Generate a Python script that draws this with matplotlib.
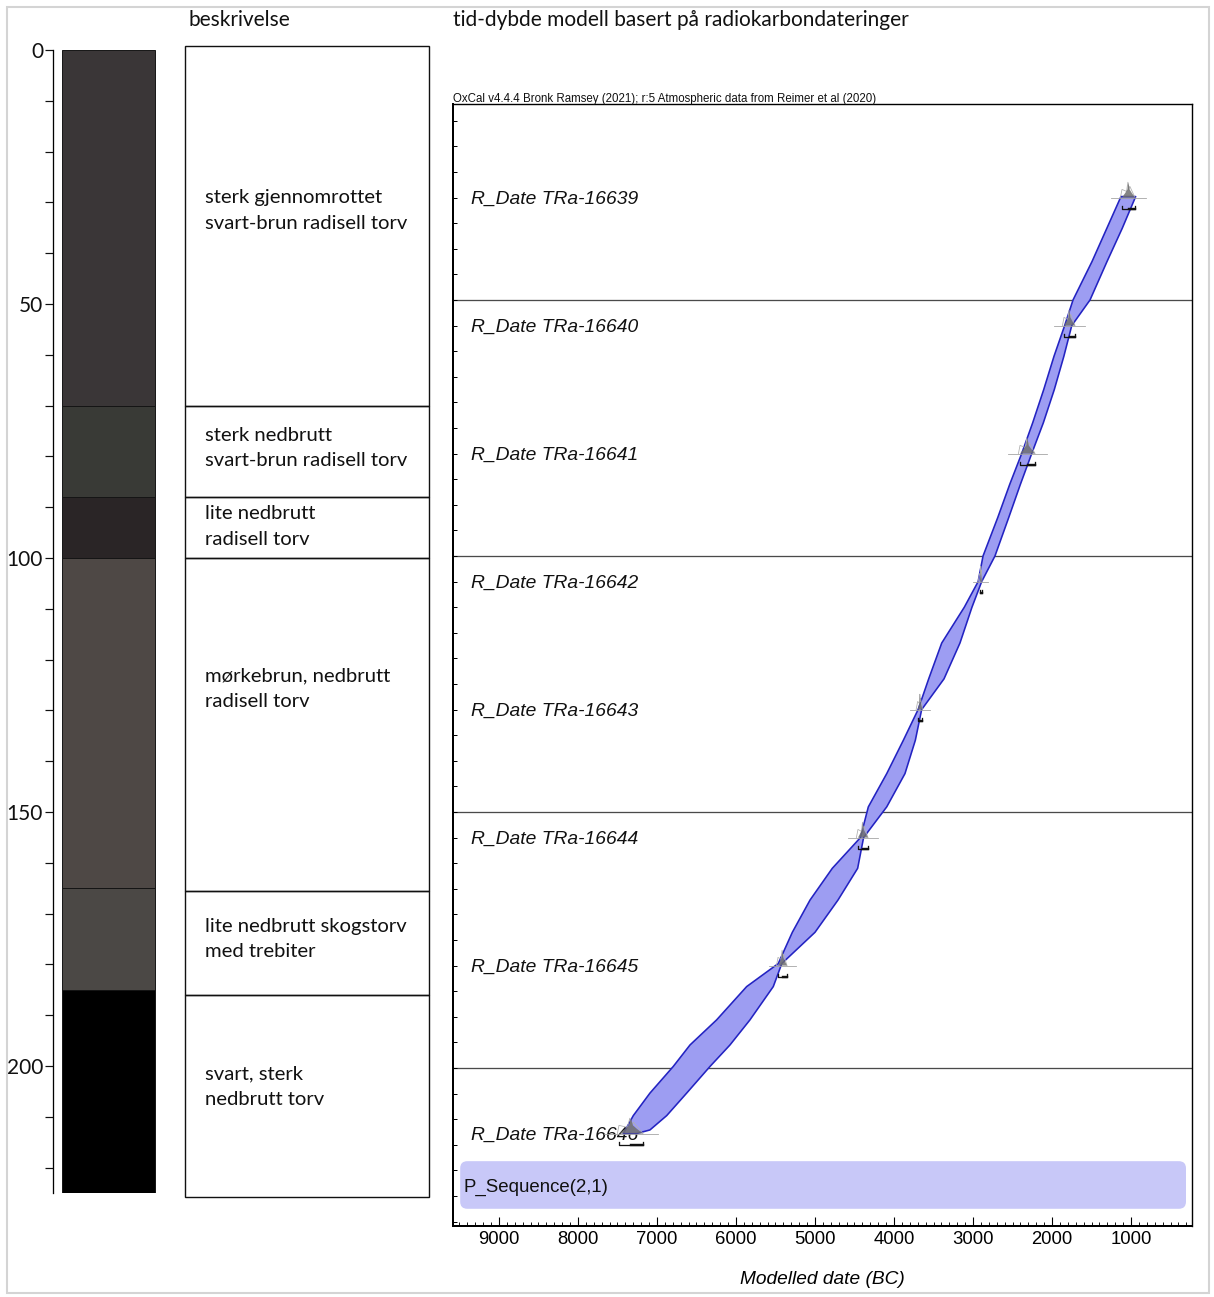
import matplotlib
matplotlib.use("Agg")
import matplotlib.pyplot as plt
from matplotlib.patches import Rectangle, FancyBboxPatch
import numpy as np

W, H, DPI = 1214, 1297, 100

# lithology of the core, depth in cm
layer_top = [0, 70, 88, 100, 165, 185]
layer_bottom = [70, 88, 100, 165, 185, 225]
layer_color = ['#3a3637', '#393a36', '#2a2526', '#4e4845', '#4b4845', '#000000']

# description column
desc_top = [-0.8, 70, 88, 100, 165.5, 186]
desc_bottom = [70, 88, 100, 165.5, 186, 225.7]
desc_text = ['sterk gjennomrottet\nsvart-brun radisell torv',
             'sterk nedbrutt\nsvart-brun radisell torv',
             'lite nedbrutt\nradisell torv',
             'mørkebrun, nedbrutt\nradisell torv',
             'lite nedbrutt skogstorv\nmed trebiter',
             'svart, sterk\nnedbrutt torv']
desc_text_depth = [31.3, 78, 93.5, 125.4, 174.7, 203.8]

# radiocarbon samples (depth in cm, calibrated ranges in years BC)
sample_id = ['TRa-16639', 'TRa-16640', 'TRa-16641', 'TRa-16642',
             'TRa-16643', 'TRa-16644', 'TRa-16645', 'TRa-16646']
sample_depth = [30, 55, 80, 105, 130, 155, 180, 212.8]
range_old = [1114, 1848, 2405, 2915, 3700, 4456, 5468, 7481]
range_young = [949, 1709, 2215, 2886, 3640, 4329, 5354, 7177]

# age-depth envelope (95%) of the P_Sequence model
env_depth = [29.8, 36, 42.5, 50, 55, 61, 67.5, 74, 80, 86, 92.5, 100, 105, 110,
             117, 124, 130, 136, 142.5, 149, 155, 161, 167.2, 173.5, 179.6, 184.1,
             190.6, 195.5, 199.7, 204.9, 209.3, 212.1, 212.8]
env_old = [1127, 1306, 1494, 1734, 1840, 1975, 2105, 2245, 2384, 2535, 2687, 2873,
           2935, 3110, 3396, 3561, 3695, 3882, 4092, 4325, 4425, 4781, 5063, 5287,
           5465, 5865, 6245, 6582, 6794, 7089, 7300, 7400, 7427]
env_young = [941, 1111, 1304, 1519, 1750, 1850, 1971, 2110, 2257, 2400, 2548, 2722,
             2890, 3013, 3165, 3367, 3650, 3730, 3861, 4092, 4385, 4460, 4709, 5000,
             5420, 5528, 5823, 6076, 6329, 6624, 6877, 7089, 7257]

x_major = [9000, 8000, 7000, 6000, 5000, 4000, 3000, 2000, 1000]
depth_lines = [50, 100, 150, 200]

PT = 72 / DPI  # pixel -> point

fig = plt.figure(figsize=(W / DPI, H / DPI), dpi=DPI)
sans = 'Lato'
arial = 'Liberation Sans'


def px_axes(x0, y0, x1, y1):
    return fig.add_axes([x0 / W, 1 - y1 / H, (x1 - x0) / W, (y1 - y0) / H])


def depth_at(y):
    return (y - 50) / 5.08


# outer frame
fig.patches.append(Rectangle((7 / W, 1 - 1293 / H), 1202 / W, 1286 / H,
                             transform=fig.transFigure, fill=False,
                             edgecolor='#d4d4d4', lw=1.5))

# core column
ax = px_axes(53, 50, 160, 1193)
ax.set_xlim(53, 160)
ax.set_ylim(225, 0)
for t, b, c in zip(layer_top, layer_bottom, layer_color):
    ax.bar(62, b - t, width=93, bottom=t, align='edge', color=c,
           edgecolor='#151515', lw=0.7)
for s in ['top', 'right', 'bottom']:
    ax.spines[s].set_visible(False)
ax.spines['left'].set_linewidth(1.3 * PT)
ax.set_xticks([])
ax.set_yticks(np.arange(0, 201, 50))
ax.set_yticks(np.arange(0, 221, 10), minor=True)
ax.tick_params(axis='y', which='both', direction='out', length=8 * PT,
               width=1.2 * PT, pad=2 * PT, labelsize=15, colors='#111111')
for lab in ax.get_yticklabels():
    lab.set_fontfamily(sans)
ax.patch.set_alpha(0)

# description boxes
ad = px_axes(183, 40, 431, 1200)
ad.set_xlim(183, 431)
ad.set_ylim(depth_at(1200), depth_at(40))
ad.axis('off')
for t, b in zip(desc_top, desc_bottom):
    ad.add_patch(Rectangle((185, t), 244, b - t, fill=False,
                           edgecolor='#111111', lw=1.4 * PT))
for txt, d in zip(desc_text, desc_text_depth):
    ad.text(205, d + 0.3, txt, fontsize=14.6, family=sans, va='center', ha='left',
            linespacing=1.6, color='#111111')

fig.text(188 / W, 1 - 20 / H, 'beskrivelse', fontsize=15, family=sans,
         va='center', ha='left', color='#111111')
fig.text(453 / W, 1 - 20 / H, 'tid-dybde modell basert på radiokarbondateringer',
         fontsize=15, family=sans, va='center', ha='left', color='#111111')

# OxCal age-depth panel
ao = px_axes(453, 104, 1192, 1226)
ao.set_xlim(9582, 228)
ao.set_ylim(230.86, 11.72)

for d in depth_lines:
    ao.axhline(d, color='#4a4a4a', lw=1.3 * PT, zorder=1)

seq = FancyBboxPatch((304, 218.2), 9491 - 304, 227.5 - 218.2,
                     boxstyle='round,pad=0,rounding_size=90',
                     mutation_aspect=0.195 / 12.66,
                     facecolor='#c8c8f8', edgecolor='none', zorder=1)
ao.add_patch(seq)
ao.text(9455, 223.4, 'P_Sequence(2,1)', fontsize=13.4, family=arial,
        va='center', ha='left', color='#111111', zorder=5)

poly_x = np.concatenate([env_old, env_young[::-1]])
poly_y = np.concatenate([env_depth, env_depth[::-1]])
ao.fill(poly_x, poly_y, facecolor='#9d9df2', edgecolor='#2323c2',
        lw=1.6 * PT, zorder=3, joinstyle='round')

for sid, d, lo, hi in zip(sample_id, sample_depth, range_old, range_young):
    ao.text(9350, d + 0.4, 'R_Date ' + sid, fontsize=13.9, family=arial,
            style='italic', va='center', ha='left', color='#111111', zorder=2)
    span = lo - hi
    mid = (lo + hi) / 2
    # baseline and calibrated distribution
    ao.plot([lo + span * 0.4 + 70, hi - span * 0.4 - 70], [d, d],
            color='#a0a0a0', lw=0.8 * PT, zorder=4)
    ao.plot([lo + 20, lo, mid + span * 0.15, mid + span * 0.05, mid,
             mid - span * 0.1, hi],
            [d, d - 1.6, d - 1.2, d - 3.0, d - 1.5, d - 2.2, d],
            color='#b0b0b0', lw=0.8 * PT, zorder=4)
    ao.fill([lo, lo - span * 0.25, mid + span * 0.08, mid, mid - span * 0.08,
             hi + span * 0.25, hi],
            [d, d - 0.9, d - 1.6, d - 3.0, d - 1.6, d - 0.9, d],
            color='#6e6e6e', lw=0, zorder=4, alpha=0.85)
    # modelled range bracket
    yb = d + 2.3
    ao.plot([lo, lo, hi, hi], [yb - 0.7, yb, yb, yb - 0.7], color='#111111',
            lw=1.3 * PT, zorder=5)
    ao.plot([mid, hi], [yb, yb], color='#111111', lw=2.4 * PT, zorder=5)

ao.set_xticks(x_major)
ao.set_xticks(np.arange(9500, 200, -100), minor=True)
ao.set_yticks(np.arange(15, 231, 5))
ao.set_yticklabels([])
ao.tick_params(axis='x', which='major', direction='in', length=9 * PT,
               width=1.1 * PT, pad=4.5 * PT, labelsize=13.3)
ao.tick_params(axis='x', which='minor', direction='in', length=4 * PT,
               width=0.9 * PT)
ao.tick_params(axis='y', which='major', direction='in', length=4 * PT,
               width=1.0 * PT)
for lab in ao.get_xticklabels():
    lab.set_fontfamily(arial)
for s in ['left', 'bottom']:
    ao.spines[s].set_linewidth(2.0 * PT)
for s in ['top', 'right']:
    ao.spines[s].set_linewidth(1.4 * PT)
ao.set_xlabel('Modelled date (BC)', fontsize=13.8, family=arial,
              style='italic', labelpad=24 * PT)

fig.text(453 / W, 1 - 102 / H,
         'OxCal v4.4.4 Bronk Ramsey (2021); r:5 Atmospheric data from Reimer et al (2020)',
         fontsize=8.3, family=arial, va='baseline', ha='left', color='#111111')

fig.savefig('out.png', dpi=DPI)
